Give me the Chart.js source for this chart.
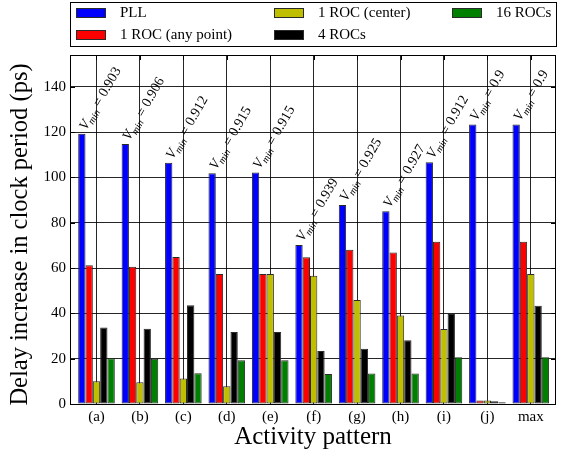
<!DOCTYPE html>
<html>
<head>
<meta charset="utf-8">
<script src="https://cdn.jsdelivr.net/npm/chart.js@4/dist/chart.umd.min.js"></script>
<style>
html,body{margin:0;padding:0;background:#fff;}
#wrap{width:565px;height:455px;position:relative;}
</style>
</head>
<body>
<div id="wrap"><canvas id="c" width="565" height="455"></canvas></div>
<script>
const categories = ["(a)","(b)","(c)","(d)","(e)","(f)","(g)","(h)","(i)","(j)","max"];
const seriesNames = ["PLL","1 ROC (any point)","1 ROC (center)","4 ROCs","16 ROCs"];
const pll       = [119.2,114.7,106.4,101.8,102.1,70.2,87.8,85.0,106.7,123.3,123.3];
const rocAny    = [61.2,60.6,64.9,57.4,57.4,64.7,68.1,66.9,71.6,1.5,71.6];
const rocCenter = [10.0,9.6,11.2,7.8,57.4,56.6,45.9,39.0,33.1,1.5,57.4];
const roc4      = [33.8,33.2,43.6,31.8,31.8,23.4,24.4,28.1,39.7,1.2,43.4];
const roc16     = [20.2,20.0,13.6,19.3,19.3,13.2,13.5,13.5,20.6,0.8,20.6];
const vminLabels = ["0.903","0.906","0.912","0.915","0.915","0.939","0.925","0.927","0.912","0.9","0.9"];
const yTicks = [0,20,40,60,80,100,120,140];
const yTitle = 'Delay increase in clock period (ps)';

const colors = ["#0000ff","#ff0000","#bfbf00","#000000","#008000"];
const seriesData = [pll, rocAny, rocCenter, roc4, roc16];
const FONT = "'Liberation Serif', 'Times New Roman', serif";

const datasets = seriesData.map((arr, k) => ({
  label: seriesNames[k],
  data: arr.map((v, i) => ({x: i, y: v})),
  backgroundColor: colors[k],
  borderColor: '#2a2a2a',
  borderWidth: 1,
  borderSkipped: false,
  inflateAmount: 0,
  barPercentage: 1.0,
  categoryPercentage: 0.843
}));

const dotted = {color: 'rgba(0,0,0,0.85)', lineWidth: 1, borderDash: [1, 3], drawTicks: false};

const overlayPlugin = {
  id: 'overlay',
  afterDatasetsDraw(chart) {
    const ctx = chart.ctx;
    const meta = chart.getDatasetMeta(0);
    ctx.save();
    ctx.fillStyle = '#000';
    meta.data.forEach((el, i) => {
      const left = el.x - el.width / 2;
      const top = el.y;
      ctx.save();
      ctx.translate(left + 8, top - 3);
      ctx.rotate(-Math.PI / 3);
      ctx.textBaseline = 'alphabetic';
      ctx.textAlign = 'left';
      ctx.font = "italic 14px " + FONT;
      ctx.fillText("V", 0, 0);
      let x = ctx.measureText("V").width;
      ctx.font = "italic 10px " + FONT;
      ctx.fillText("min", x, 3);
      x += ctx.measureText("min").width;
      ctx.font = "14px " + FONT;
      ctx.fillText(" = " + vminLabels[i], x, 0);
      ctx.restore();
    });
    ctx.restore();
  },
  afterDraw(chart) {
    const ctx = chart.ctx;
    const a = chart.chartArea;
    ctx.save();
    ctx.strokeStyle = '#000';
    ctx.lineWidth = 1;
    ctx.strokeRect(Math.round(a.left) + 0.5, Math.round(a.top) + 0.5, Math.round(a.right - a.left) - 1, Math.round(a.bottom - a.top));
    const ys = chart.scales.y, xs = chart.scales.x;
    ctx.beginPath();
    ys.ticks.forEach(t => {
      const py = Math.round(ys.getPixelForValue(t.value)) + 0.5;
      ctx.moveTo(a.left, py); ctx.lineTo(a.left + 5, py);
      ctx.moveTo(a.right, py); ctx.lineTo(a.right - 5, py);
    });
    xs.ticks.forEach(t => {
      const px = Math.round(xs.getPixelForValue(t.value)) + 0.5;
      ctx.moveTo(px, a.top); ctx.lineTo(px, a.top + 5);
    });
    ctx.stroke();
    // y axis title
    ctx.save();
    ctx.translate(21, (a.top + a.bottom) / 2 + 5);
    ctx.rotate(-Math.PI / 2);
    ctx.font = "24.5px " + FONT;
    ctx.fillStyle = '#000';
    ctx.textAlign = 'center';
    ctx.textBaseline = 'middle';
    ctx.fillText(yTitle, 0, 0);
    ctx.restore();
    // legend
    const bx = 70.5, by = 2.5, bw = 486, bh = 44;
    ctx.fillStyle = '#fff';
    ctx.fillRect(bx, by, bw, bh);
    ctx.strokeRect(bx, by, bw, bh);
    const colX = [76, 274, 452];
    const rowY = [8, 30];
    const order = [[0,0,0],[1,0,1],[2,1,0],[3,1,1],[4,2,0]];
    ctx.font = "15px " + FONT;
    ctx.textBaseline = 'middle';
    ctx.textAlign = 'left';
    order.forEach(([k, c, r]) => {
      const sx = colX[c], sy = rowY[r];
      ctx.fillStyle = colors[k];
      ctx.fillRect(sx, sy, 30, 10);
      ctx.strokeStyle = '#2a2a2a';
      ctx.strokeRect(sx + 0.5, sy + 0.5, 29, 9);
      ctx.fillStyle = '#000';
      ctx.fillText(seriesNames[k], sx + 44, sy + 5.5);
    });
    ctx.restore();
  }
};

new Chart(document.getElementById('c'), {
  type: 'bar',
  data: { datasets },
  options: {
    responsive: false,
    animation: false,
    devicePixelRatio: 1,
    layout: { padding: { left: 0, right: 9, top: 55, bottom: 0 } },
    plugins: { legend: { display: false }, tooltip: { enabled: false } },
    scales: {
      x: {
        type: 'linear',
        min: -0.61,
        max: 10.58,
        offset: false,
        z: 1,
        grid: Object.assign({}, dotted, { offset: false }),
        border: { display: false },
        afterBuildTicks(scale) { scale.ticks = categories.map((_, i) => ({ value: i })); },
        afterFit(scale) { scale.height = 51; },
        ticks: {
          autoSkip: false,
          maxRotation: 0,
          padding: 4,
          color: '#000',
          font: { family: FONT, size: 15 },
          callback: (v) => categories[v]
        },
        title: {
          display: true,
          text: 'Activity pattern',
          color: '#000',
          font: { family: FONT, size: 25 },
          padding: { top: 0, bottom: 3 }
        }
      },
      y: {
        min: 0,
        max: 154,
        z: 1,
        grid: dotted,
        border: { display: false },
        afterBuildTicks(scale) { scale.ticks = yTicks.map(v => ({ value: v })); },
        afterFit(scale) { scale.width = 70; },
        ticks: {
          padding: 4,
          color: '#000',
          font: { family: FONT, size: 15 }
        },
        title: { display: false }
      }
    }
  },
  plugins: [overlayPlugin]
});
</script>
</body>
</html>
